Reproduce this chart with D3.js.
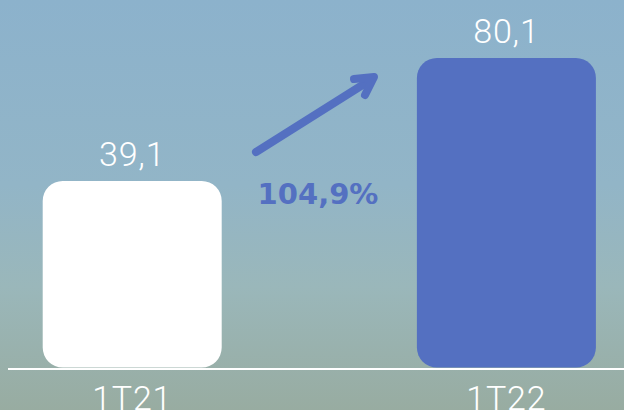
<!DOCTYPE html>
<html><head><meta charset="utf-8">
<script src="https://cdn.jsdelivr.net/npm/d3@7"></script>
<style>html,body{margin:0;padding:0;overflow:hidden;}svg{display:block;}</style>
</head><body>
<svg id="c" width="624" height="410"></svg>
<script>
const categories = ["1T21", "1T22"];
const values = [39.1, 80.1];
const valueLabels = ["39,1", "80,1"];
const growthLabel = "104,9%";

const W = 624, H = 410;
const svg = d3.select("#c");
const defs = svg.append("defs");
const g = defs.append("linearGradient").attr("id","bg").attr("x1",0).attr("y1",0).attr("x2",0).attr("y2",1);
g.append("stop").attr("offset","0%").attr("stop-color","#8cb2cc");
g.append("stop").attr("offset","45%").attr("stop-color","#92b5c7");
g.append("stop").attr("offset","70%").attr("stop-color","#9ab7ba");
g.append("stop").attr("offset","100%").attr("stop-color","#98aca1");
svg.append("rect").attr("width",W).attr("height",H).attr("fill","url(#bg)");

const xb = d3.scalePoint().domain(categories).range([132.2, 506.4]);
const barW = 179;
const y = d3.scaleLinear().domain([-23, 100]).range([367.3, -1.7]);
const base = 367.5;
const r = 20;

function roundedRect(x0, y0, w, h, rad) {
  const p = d3.path();
  p.moveTo(x0 + rad, y0);
  p.lineTo(x0 + w - rad, y0);
  p.arcTo(x0 + w, y0, x0 + w, y0 + rad, rad);
  p.lineTo(x0 + w, y0 + h - rad);
  p.arcTo(x0 + w, y0 + h, x0 + w - rad, y0 + h, rad);
  p.lineTo(x0 + rad, y0 + h);
  p.arcTo(x0, y0 + h, x0, y0 + h - rad, rad);
  p.lineTo(x0, y0 + rad);
  p.arcTo(x0, y0, x0 + rad, y0, rad);
  p.closePath();
  return p.toString();
}

const colors = ["#ffffff", "#5470c1"];
svg.selectAll("path.bar").data(values).enter().append("path")
  .attr("class","bar")
  .attr("d",(d,i)=>roundedRect(xb(categories[i]) - barW/2, y(d), barW, base - y(d), r))
  .attr("fill",(d,i)=>colors[i]);

svg.append("line").attr("x1",8).attr("x2",624).attr("y1",369).attr("y2",369)
  .attr("stroke","#ffffff").attr("stroke-width",2);

svg.selectAll("text.val").data(values).enter().append("text")
  .attr("class","val")
  .attr("x",(d,i)=>xb(categories[i]))
  .attr("y",d=>y(d) - 15)
  .attr("text-anchor","middle")
  .attr("font-family","Roboto, sans-serif")
  .attr("font-weight",300)
  .attr("font-size",34)
  .attr("letter-spacing",0.8)
  .attr("fill","#ffffff")
  .text((d,i)=>valueLabels[i]);

svg.selectAll("text.cat").data(categories).enter().append("text")
  .attr("class","cat")
  .attr("x",d=>xb(d))
  .attr("y",410)
  .attr("text-anchor","middle")
  .attr("font-family","Roboto, sans-serif")
  .attr("font-weight",300)
  .attr("font-size",34)
  .attr("letter-spacing",0.8)
  .attr("fill","#ffffff")
  .text(d=>d);

const arrow = svg.append("g").attr("stroke","#5470c1").attr("stroke-width",8)
  .attr("stroke-linecap","round").attr("stroke-linejoin","round").attr("fill","none");
arrow.append("line").attr("x1",256).attr("y1",152).attr("x2",372).attr("y2",79);
arrow.append("polyline").attr("points","354,79 374,77 365,95");

svg.append("text").attr("x",318).attr("y",204).attr("text-anchor","middle")
  .attr("font-family","'DejaVu Sans', sans-serif").attr("font-weight",700).attr("font-size",29)
  .attr("fill","#5470c1").text(growthLabel);
</script>
</body></html>
